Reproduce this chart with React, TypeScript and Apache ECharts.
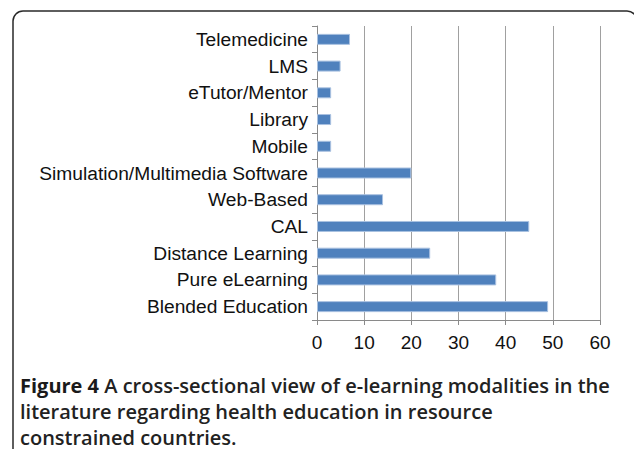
import React, { useEffect, useRef } from "react";
import * as echarts from "echarts";

const categories = [
  "Blended Education",
  "Pure eLearning",
  "Distance Learning",
  "CAL",
  "Web-Based",
  "Simulation/Multimedia Software",
  "Mobile",
  "Library",
  "eTutor/Mentor",
  "LMS",
  "Telemedicine",
];
const values = [49, 38, 24, 45, 14, 20, 3, 3, 3, 5, 7];
const captionLines = [
  "A cross-sectional view of e-learning modalities in the",
  "literature regarding health education in resource",
  "constrained countries.",
];

export default function App() {
  const ref = useRef<HTMLDivElement>(null);
  useEffect(() => {
    const chart = echarts.init(ref.current!, null, { renderer: "svg" });
    const font = "'Liberation Sans', Arial, Helvetica, sans-serif";
    const capFont = "'Open Sans', Lato, sans-serif";
    chart.setOption({
      animation: false,
      grid: { left: 317, right: 34, top: 26, bottom: 129, containLabel: false },
      xAxis: {
        type: "value",
        min: 0,
        max: 60,
        interval: 10,
        axisLine: { show: true, lineStyle: { color: "#8a8a8a", width: 1 } },
        axisTick: { show: true, length: 5, lineStyle: { color: "#8a8a8a" } },
        axisLabel: { color: "#111", fontSize: 19, fontFamily: font, margin: 13 },
        splitLine: { show: true, lineStyle: { color: "#a0a0a0", width: 1 } },
      },
      yAxis: {
        type: "category",
        data: categories,
        axisLine: { show: true, lineStyle: { color: "#8a8a8a", width: 1 } },
        axisTick: { show: true, length: 5, alignWithLabel: false, lineStyle: { color: "#8a8a8a" } },
        axisLabel: { color: "#111", fontSize: 19.2, fontFamily: font, margin: 9 },
        splitLine: { show: false },
      },
      series: [
        {
          type: "bar",
          data: values,
          barWidth: 11,
          itemStyle: { color: "#4f81bd", borderColor: "#a9c1e0", borderWidth: 1 },
        },
      ],
      graphic: [
        {
          type: "rect",
          shape: { x: 13, y: 11, width: 624, height: 470, r: 10 },
          style: { fill: "none", stroke: "#2a2a2a", lineWidth: 1.5 },
          silent: true,
        },
        {
          type: "text",
          left: 20,
          top: 375,
          style: {
            text: "{b|Figure 4 }{n|" + captionLines[0] + "}\n{n|" + captionLines[1] + "}\n{n|" + captionLines[2] + "}",
            rich: {
              b: { fontFamily: capFont, fontSize: 20, fontWeight: "bold", fill: "#1a1a1a", lineHeight: 26 },
              n: { fontFamily: capFont, fontSize: 20, fontWeight: 600, fill: "#222", lineHeight: 26 },
            },
          },
        },
      ],
    });
    return () => chart.dispose();
  }, []);
  return <div ref={ref} style={{ width: 634, height: 449, position: "absolute", left: 0, top: 0 }} />;
}
